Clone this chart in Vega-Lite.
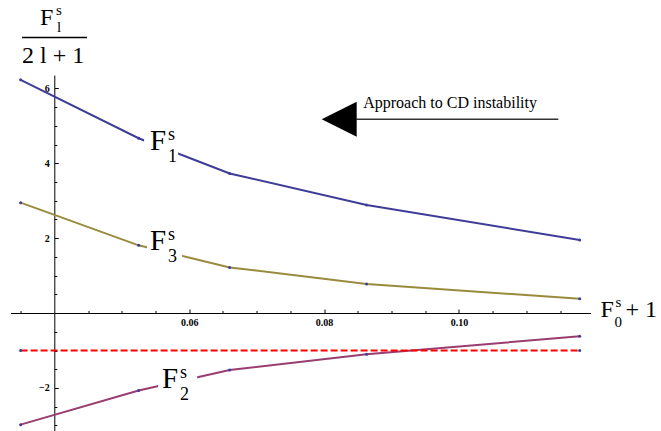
{
  "$schema": "https://vega.github.io/schema/vega-lite/v6.json",
  "width": 580,
  "height": 356,
  "autosize": {"type": "none"},
  "padding": {"left": 10.5, "top": 75, "right": 70.5, "bottom": 0},
  "background": "white",
  "config": {
    "view": {"stroke": null},
    "axis": {
      "domainColor": "black",
      "domainWidth": 1,
      "tickColor": "black",
      "tickWidth": 1,
      "labelFont": "Liberation Serif",
      "labelFontSize": 10,
      "labelFontWeight": "bold",
      "labelColor": "black",
      "grid": false
    }
  },
  "resolve": {"axis": {"x": "independent", "y": "independent"}},
  "datasets": {
    "curves": [
      {"series": "F1", "x": 0.035, "y": 6.23},
      {"series": "F1", "x": 0.0525, "y": 4.67},
      {"series": "F1", "x": 0.066, "y": 3.73},
      {"series": "F1", "x": 0.0863, "y": 2.89},
      {"series": "F1", "x": 0.1179, "y": 1.95},
      {"series": "F2", "x": 0.035, "y": -2.98},
      {"series": "F2", "x": 0.0525, "y": -2.07},
      {"series": "F2", "x": 0.066, "y": -1.52},
      {"series": "F2", "x": 0.0863, "y": -1.1},
      {"series": "F2", "x": 0.1179, "y": -0.62},
      {"series": "F3", "x": 0.035, "y": 2.95},
      {"series": "F3", "x": 0.0525, "y": 1.81},
      {"series": "F3", "x": 0.066, "y": 1.22},
      {"series": "F3", "x": 0.0863, "y": 0.78},
      {"series": "F3", "x": 0.1179, "y": 0.38}
    ],
    "ref": [
      {"x": 0.035, "y": -1},
      {"x": 0.1179, "y": -1}
    ],
    "masks": [
      {"x": 0.05331, "x2": 0.05835, "y": 3.957, "y2": 4.947},
      {"x": 0.05375, "x2": 0.05895, "y": 1.283, "y2": 2.246},
      {"x": 0.05539, "x2": 0.06117, "y": -2.433, "y2": -1.444}
    ],
    "labels": [
      {"x": 0.0542, "y": 4.36, "main": "F", "sup": "s", "sub": "1"},
      {"x": 0.0542, "y": 1.68, "main": "F", "sup": "s", "sub": "3"},
      {"x": 0.05598, "y": -2.005, "main": "F", "sup": "s", "sub": "2"}
    ],
    "xtitle": [
      {"x": 0.12097, "y": -0.107, "main": "F", "sup": "s", "sub": "0", "tail": "+ 1"}
    ],
    "ytitle": [
      {"x": 0.03788, "y": 7.70, "main": "F", "sup": "s", "sub": "l", "x2": 0.04485, "fx": 0.03521, "fy": 7.361, "den": "2 l + 1", "dy": 6.684}
    ],
    "arrow": [
      {"x": 0.08224, "y": 5.179, "x1": 0.08476, "x2": 0.11473, "tx": 0.0858, "ty": 5.489, "text": "Approach to CD instability"}
    ]
  },
  "layer": [
    {
      "data": {"name": "curves"},
      "mark": {"type": "line", "strokeWidth": 2},
      "encoding": {
        "x": {
          "field": "x", "type": "quantitative",
          "scale": {"domain": [0.0335, 0.1195], "nice": false, "zero": false},
          "axis": {
            "title": null,
            "orient": "bottom",
            "offset": -118,
            "values": [0.06, 0.08, 0.1],
            "format": ".2f",
            "tickSize": -4,
            "labelPadding": 8,
            "labelOverlap": false,
            "labelFlush": false
          }
        },
        "y": {
          "field": "y", "type": "quantitative",
          "scale": {"domain": [-3.15, 6.36], "nice": false, "zero": false},
          "axis": {
            "title": null,
            "orient": "left",
            "offset": -43.8,
            "values": [-2, 2, 4, 6],
            "format": "d",
            "tickSize": -4,
            "labelPadding": 9,
            "labelOverlap": false,
            "labelFlush": false
          }
        },
        "color": {
          "field": "series", "type": "nominal", "legend": null,
          "scale": {"domain": ["F1", "F2", "F3"], "range": ["#3d3d99", "#993d71", "#998b3d"]}
        }
      }
    },
    {
      "data": {"name": "ref"},
      "mark": {"type": "line", "color": "#ff0000", "strokeWidth": 2, "strokeDash": [7, 3]},
      "encoding": {
        "x": {"field": "x", "type": "quantitative",
          "axis": {
            "title": null,
            "orient": "bottom",
            "offset": -118,
            "values": [0.035, 0.045, 0.05, 0.055, 0.065, 0.07, 0.075, 0.085, 0.09, 0.095, 0.105, 0.11, 0.115],
            "labels": false,
            "domain": false,
            "tickSize": -2.5
          }
        },
        "y": {"field": "y", "type": "quantitative",
          "axis": {
            "title": null,
            "orient": "left",
            "offset": -43.8,
            "values": [-3, -2.5, -1.5, -1, -0.5, 0.5, 1, 1.5, 2.5, 3, 3.5, 4.5, 5, 5.5],
            "labels": false,
            "domain": false,
            "tickSize": -2.5
          }
        }
      }
    },
    {
      "data": {"name": "curves"},
      "mark": {"type": "point", "filled": true, "color": "#3d3d99", "size": 9, "opacity": 1},
      "encoding": {
        "x": {"field": "x", "type": "quantitative", "axis": null},
        "y": {"field": "y", "type": "quantitative", "axis": null}
      }
    },
    {
      "data": {"name": "ref"},
      "mark": {"type": "point", "filled": true, "color": "#3d3d99", "size": 9, "opacity": 1},
      "encoding": {
        "x": {"field": "x", "type": "quantitative", "axis": null},
        "y": {"field": "y", "type": "quantitative", "axis": null}
      }
    },
    {
      "data": {"name": "masks"},
      "mark": {"type": "rect", "color": "white"},
      "encoding": {
        "x": {"field": "x", "type": "quantitative", "axis": null},
        "x2": {"field": "x2"},
        "y": {"field": "y", "type": "quantitative", "axis": null},
        "y2": {"field": "y2"}
      }
    },
    {
      "data": {"name": "labels"},
      "mark": {"type": "text", "font": "Liberation Serif", "fontSize": 29, "align": "left", "baseline": "alphabetic", "color": "black"},
      "encoding": {
        "x": {"field": "x", "type": "quantitative", "axis": null},
        "y": {"field": "y", "type": "quantitative", "axis": null},
        "text": {"field": "main"}
      }
    },
    {
      "data": {"name": "labels"},
      "mark": {"type": "text", "font": "Liberation Serif", "fontSize": 18, "align": "left", "baseline": "alphabetic", "color": "black", "dx": 18, "dy": -10},
      "encoding": {
        "x": {"field": "x", "type": "quantitative", "axis": null},
        "y": {"field": "y", "type": "quantitative", "axis": null},
        "text": {"field": "sup"}
      }
    },
    {
      "data": {"name": "labels"},
      "mark": {"type": "text", "font": "Liberation Serif", "fontSize": 18, "align": "left", "baseline": "alphabetic", "color": "black", "dx": 18, "dy": 12},
      "encoding": {
        "x": {"field": "x", "type": "quantitative", "axis": null},
        "y": {"field": "y", "type": "quantitative", "axis": null},
        "text": {"field": "sub"}
      }
    },
    {
      "data": {"name": "xtitle"},
      "mark": {"type": "text", "font": "Liberation Serif", "fontSize": 24, "align": "left", "baseline": "alphabetic", "color": "black"},
      "encoding": {
        "x": {"field": "x", "type": "quantitative", "axis": null},
        "y": {"field": "y", "type": "quantitative", "axis": null},
        "text": {"field": "main"}
      }
    },
    {
      "data": {"name": "xtitle"},
      "mark": {"type": "text", "font": "Liberation Serif", "fontSize": 15, "align": "left", "baseline": "alphabetic", "color": "black", "dx": 15, "dy": -10},
      "encoding": {
        "x": {"field": "x", "type": "quantitative", "axis": null},
        "y": {"field": "y", "type": "quantitative", "axis": null},
        "text": {"field": "sup"}
      }
    },
    {
      "data": {"name": "xtitle"},
      "mark": {"type": "text", "font": "Liberation Serif", "fontSize": 15, "align": "left", "baseline": "alphabetic", "color": "black", "dx": 14, "dy": 10},
      "encoding": {
        "x": {"field": "x", "type": "quantitative", "axis": null},
        "y": {"field": "y", "type": "quantitative", "axis": null},
        "text": {"field": "sub"}
      }
    },
    {
      "data": {"name": "xtitle"},
      "mark": {"type": "text", "font": "Liberation Serif", "fontSize": 24, "align": "left", "baseline": "alphabetic", "color": "black", "dx": 25},
      "encoding": {
        "x": {"field": "x", "type": "quantitative", "axis": null},
        "y": {"field": "y", "type": "quantitative", "axis": null},
        "text": {"field": "tail"}
      }
    },
    {
      "data": {"name": "ytitle"},
      "mark": {"type": "text", "font": "Liberation Serif", "fontSize": 24, "align": "left", "baseline": "alphabetic", "color": "black"},
      "encoding": {
        "x": {"field": "x", "type": "quantitative", "axis": null},
        "y": {"field": "y", "type": "quantitative", "axis": null},
        "text": {"field": "main"}
      }
    },
    {
      "data": {"name": "ytitle"},
      "mark": {"type": "text", "font": "Liberation Serif", "fontSize": 15, "align": "left", "baseline": "alphabetic", "color": "black", "dx": 16, "dy": -10},
      "encoding": {
        "x": {"field": "x", "type": "quantitative", "axis": null},
        "y": {"field": "y", "type": "quantitative", "axis": null},
        "text": {"field": "sup"}
      }
    },
    {
      "data": {"name": "ytitle"},
      "mark": {"type": "text", "font": "Liberation Serif", "fontSize": 15, "align": "left", "baseline": "alphabetic", "color": "black", "dx": 17, "dy": 7},
      "encoding": {
        "x": {"field": "x", "type": "quantitative", "axis": null},
        "y": {"field": "y", "type": "quantitative", "axis": null},
        "text": {"field": "sub"}
      }
    },
    {
      "data": {"name": "ytitle"},
      "mark": {"type": "rule", "color": "black", "strokeWidth": 1.5},
      "encoding": {
        "x": {"field": "fx", "type": "quantitative", "axis": null},
        "x2": {"field": "x2"},
        "y": {"field": "fy", "type": "quantitative", "axis": null}
      }
    },
    {
      "data": {"name": "ytitle"},
      "mark": {"type": "text", "font": "Liberation Serif", "fontSize": 24, "align": "left", "baseline": "alphabetic", "color": "black"},
      "encoding": {
        "x": {"field": "fx", "type": "quantitative", "axis": null},
        "y": {"field": "dy", "type": "quantitative", "axis": null},
        "text": {"field": "den"}
      }
    },
    {
      "data": {"name": "arrow"},
      "mark": {"type": "rule", "color": "#333333", "strokeWidth": 1.5},
      "encoding": {
        "x": {"field": "x1", "type": "quantitative", "axis": null},
        "x2": {"field": "x2"},
        "y": {"field": "y", "type": "quantitative", "axis": null}
      }
    },
    {
      "data": {"name": "arrow"},
      "mark": {"type": "point", "shape": "M -1 0 L 1 -1 L 1 1 Z", "filled": true, "color": "black", "opacity": 1, "size": 1225},
      "encoding": {
        "x": {"field": "x", "type": "quantitative", "axis": null},
        "y": {"field": "y", "type": "quantitative", "axis": null}
      }
    },
    {
      "data": {"name": "arrow"},
      "mark": {"type": "text", "font": "Liberation Serif", "fontSize": 16, "align": "left", "baseline": "alphabetic", "color": "black"},
      "encoding": {
        "x": {"field": "tx", "type": "quantitative", "axis": null},
        "y": {"field": "ty", "type": "quantitative", "axis": null},
        "text": {"field": "text"}
      }
    }
  ]
}
